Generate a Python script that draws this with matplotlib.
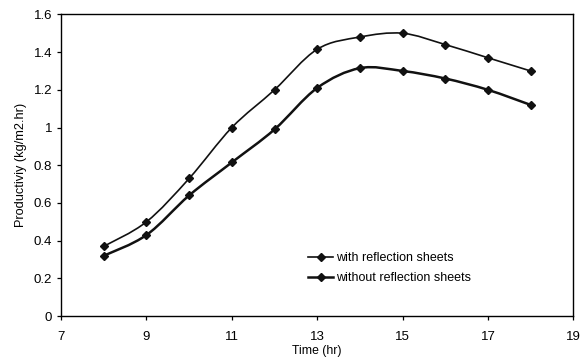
import matplotlib

matplotlib.use("Agg")
import matplotlib.pyplot as plt
import numpy as np
from matplotlib.lines import Line2D
from matplotlib.patches import PathPatch
from matplotlib.path import Path
from matplotlib.ticker import FuncFormatter

plt.rcParams["font.family"] = ["Liberation Sans", "DejaVu Sans"]

hours = [8, 9, 10, 11, 12, 13, 14, 15, 16, 17, 18]
with_sheets = [0.37, 0.50, 0.73, 1.00, 1.20, 1.415, 1.48, 1.50, 1.44, 1.37, 1.30]
without_sheets = [0.32, 0.43, 0.64, 0.815, 0.99, 1.21, 1.315, 1.30, 1.26, 1.20, 1.12]
series_labels = ["with reflection sheets", "without reflection sheets"]


def _smooth_path(x, y):
    """Catmull-Rom style bezier through the points (like Excel's smoothed line)."""
    x, y = np.asarray(x, float), np.asarray(y, float)
    verts, codes = [(x[0], y[0])], [Path.MOVETO]
    n = len(x)
    for i in range(n - 1):
        x0, y0 = (x[i - 1], y[i - 1]) if i > 0 else (x[i], y[i])
        x3, y3 = (x[i + 2], y[i + 2]) if i + 2 < n else (x[i + 1], y[i + 1])
        c1 = (x[i] + (x[i + 1] - x0) / 6, y[i] + (y[i + 1] - y0) / 6)
        c2 = (x[i + 1] - (x3 - x[i]) / 6, y[i + 1] - (y3 - y[i]) / 6)
        verts += [c1, c2, (x[i + 1], y[i + 1])]
        codes += [Path.CURVE4] * 3
    return Path(verts, codes)


fig = plt.figure(figsize=(5.82, 3.6), dpi=100)
ax = fig.add_axes([0.105, 0.122, 0.88, 0.838])

handles = []
for values, label, lw in zip([with_sheets, without_sheets], series_labels, [1.2, 1.8]):
    ax.add_patch(PathPatch(_smooth_path(hours, values), facecolor="none", edgecolor="#111111", lw=lw))
    ax.plot(hours, values, linestyle="none", marker="D", markersize=4.2, color="#111111")
    handles.append(Line2D([], [], color="#111111", lw=lw, marker="D", markersize=4.2, label=label))

ax.set_xlim(7, 19)
ax.set_ylim(0, 1.6)
ax.set_xticks(range(7, 20, 2))
ax.set_yticks(np.arange(0, 1.61, 0.2))
ax.yaxis.set_major_formatter(FuncFormatter(lambda v, _: f"{v:g}"))
ax.tick_params(labelsize=9.5, length=3, width=0.9, direction="out")
ax.tick_params(axis="x", pad=8)
for side in ax.spines.values():
    side.set_linewidth(1.0)

ax.set_xlabel("Time (hr)", fontsize=8.8, labelpad=1)
ax.set_ylabel("Productiviy (kg/m2.hr)", fontsize=9.2, labelpad=5)

ax.legend(handles=handles, loc="lower left", bbox_to_anchor=(0.47, 0.085), frameon=False,
          fontsize=9, handlelength=2.0, handletextpad=0.2, labelspacing=0.65, borderpad=0)

fig.savefig("out.png", dpi=100)
